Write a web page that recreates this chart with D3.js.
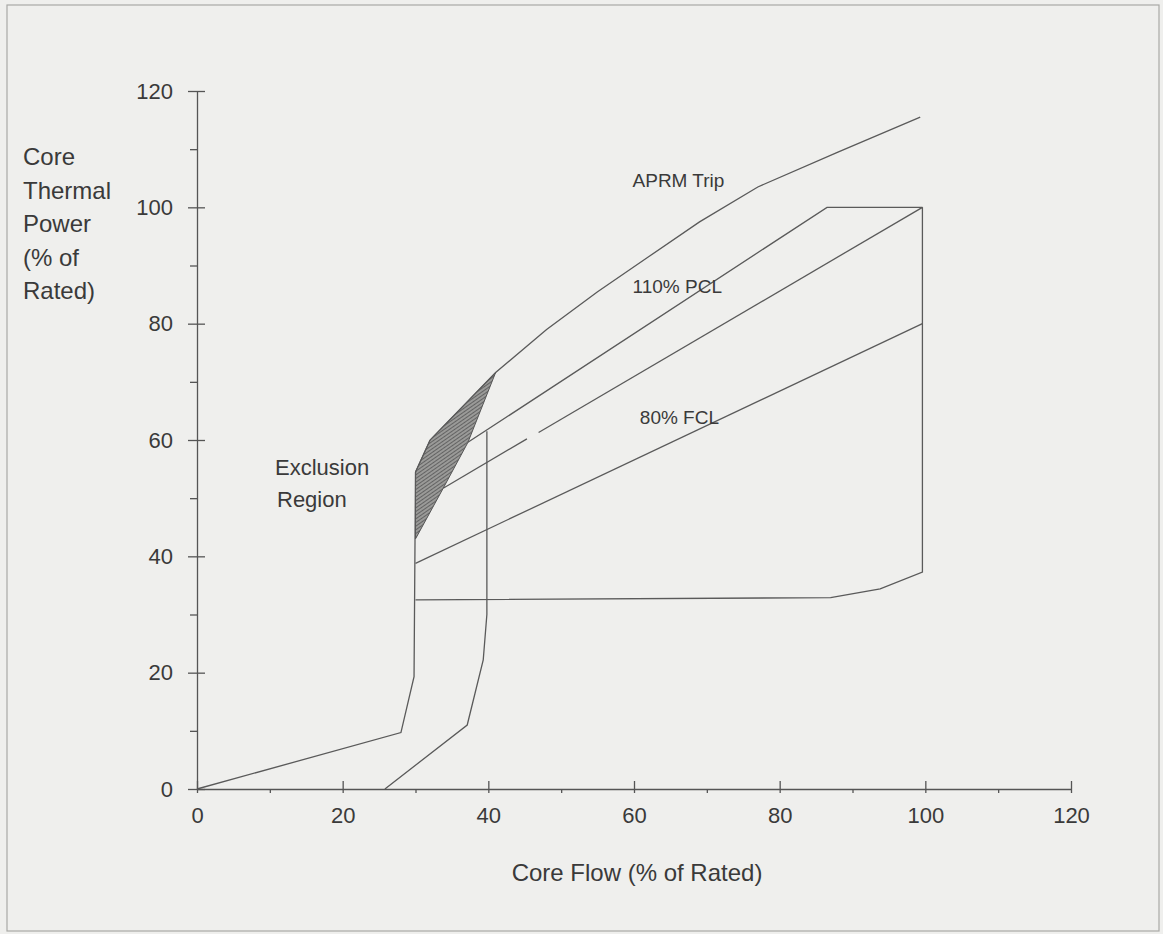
<!DOCTYPE html>
<html><head><meta charset="utf-8">
<script src="https://cdn.jsdelivr.net/npm/d3@7"></script>
<style>
html,body{margin:0;padding:0;background:#efefed;}
svg{display:block;}
text{font-family:"Liberation Sans",Arial,sans-serif;fill:#3a3a3a;}
</style></head>
<body>
<svg id="c" width="1163" height="934"></svg>
<script>
// ---- data ----
const xMajorTicks = [0, 20, 40, 60, 80, 100, 120];
const xMinorTicks = [10, 30, 50, 70, 90, 110];
const yMajorTicks = [0, 20, 40, 60, 80, 100, 120];
const yMinorTicks = [10, 30, 50, 70, 90, 110];

const aprmFlow  = [30, 32, 41, 48, 55, 62, 69, 77, 88, 99.3];
const aprmPower = [54.5, 60, 71.6, 79, 85.5, 91.5, 97.5, 103.5, 109.5, 115.5];

const pcl110Flow  = [37.2, 86.5, 99.6];
const pcl110Power = [59.6, 100, 100];

const midFlowA  = [33.8, 45.3];
const midPowerA = [51.7, 60.2];
const midFlowB  = [46.9, 99.6];
const midPowerB = [61.3, 100];

const fcl80Flow  = [30, 99.6];
const fcl80Power = [38.8, 80];

const leftFlow  = [0, 28, 29.8, 30];
const leftPower = [0, 9.7, 19.3, 54.5];

const rightFlow  = [25.8, 37.1, 39.3, 39.8, 39.8];
const rightPower = [0, 11, 22.2, 30, 61.5];

const bottomFlow  = [30, 87, 93.8, 99.6, 99.6];
const bottomPower = [32.5, 32.9, 34.4, 37.3, 100];

const exclFlow  = [30, 32, 41, 37.2, 33.8, 30];
const exclPower = [54.5, 60, 71.6, 59.6, 51.7, 43];

const lineLabels = [
  {text: "APRM Trip", flow: 59.8, power: 103.5},
  {text: "110% PCL", flow: 59.8, power: 85.2},
  {text: "80% FCL", flow: 60.8, power: 62.7}
];

// ---- drawing ----
const svg = d3.select("#c");
const x = d3.scaleLinear().domain([0, 120]).range([197, 1071]);
const y = d3.scaleLinear().domain([0, 120]).range([789, 91]);

svg.append("rect").attr("x", 7).attr("y", 5).attr("width", 1152).attr("height", 926)
  .attr("fill", "none").attr("stroke", "#a8a8a6").attr("stroke-width", 1.2);

const defs = svg.append("defs");
const pat = defs.append("pattern").attr("id", "hatch").attr("patternUnits", "userSpaceOnUse")
  .attr("width", 3).attr("height", 3).attr("patternTransform", "rotate(-35)");
pat.append("rect").attr("width", 3).attr("height", 3).attr("fill", "#9a9a98");
pat.append("line").attr("x1", 0).attr("y1", 0).attr("x2", 3).attr("y2", 0)
  .attr("stroke", "#555").attr("stroke-width", 1.6);

const zip = (fx, fy) => fx.map((v, i) => [v, fy[i]]);
const line = d3.line().x(d => x(d[0])).y(d => y(d[1]));

// exclusion region
svg.append("path").datum(zip(exclFlow, exclPower))
  .attr("d", d => line(d) + "Z").attr("fill", "url(#hatch)").attr("stroke", "#555").attr("stroke-width", 1);

const series = [
  zip(aprmFlow, aprmPower), zip(pcl110Flow, pcl110Power), zip(midFlowA, midPowerA),
  zip(midFlowB, midPowerB), zip(fcl80Flow, fcl80Power), zip(leftFlow, leftPower),
  zip(rightFlow, rightPower), zip(bottomFlow, bottomPower)
];
svg.append("g").selectAll("path").data(series).join("path")
  .attr("d", line).attr("fill", "none").attr("stroke", "#5a5a5a").attr("stroke-width", 1.3);

// axes
const axColor = "#555";
const gx = svg.append("g").attr("transform", `translate(0,${y(0)})`)
  .call(d3.axisBottom(x).tickValues(xMajorTicks).tickSizeInner(4).tickSizeOuter(0).tickPadding(14));
gx.selectAll(".tick line").attr("y1", -8);
const gxm = svg.append("g").attr("transform", `translate(0,${y(0)})`)
  .call(d3.axisBottom(x).tickValues(xMinorTicks).tickSize(4).tickFormat(""));
gxm.select(".domain").remove();

const gy = svg.append("g").attr("transform", `translate(${x(0)},0)`)
  .call(d3.axisLeft(y).tickValues(yMajorTicks).tickSizeInner(9).tickSizeOuter(0).tickPadding(15));
gy.selectAll(".tick line").attr("x1", 8);
const gym = svg.append("g").attr("transform", `translate(${x(0)},0)`)
  .call(d3.axisLeft(y).tickValues(yMinorTicks).tickSize(7).tickFormat(""));
gym.select(".domain").remove();

svg.selectAll(".domain, .tick line").attr("stroke", axColor).attr("stroke-width", 1.3);
svg.selectAll(".tick text").attr("font-size", 22).attr("fill", "#3a3a3a")
  .attr("font-family", "Liberation Sans, Arial, sans-serif");

// titles
const yTitle = ["Core", "Thermal", "Power", "(% of", "Rated)"];
svg.append("text").attr("x", 23).attr("y", 165).attr("font-size", 24)
  .selectAll("tspan").data(yTitle).join("tspan")
  .attr("x", 23).attr("dy", (d, i) => i === 0 ? 0 : 33.5).text(d => d);

svg.append("text").attr("x", x(60) + 3).attr("y", 881).attr("text-anchor", "middle")
  .attr("font-size", 24).text("Core Flow (% of Rated)");

const exclLabel = ["Exclusion", "Region"];
svg.append("text").attr("font-size", 22).attr("y", 475)
  .selectAll("tspan").data(exclLabel).join("tspan")
  .attr("x", (d, i) => i === 0 ? 275 : 277).attr("dy", (d, i) => i === 0 ? 0 : 32).text(d => d);

svg.append("g").selectAll("text").data(lineLabels).join("text")
  .attr("x", d => x(d.flow)).attr("y", d => y(d.power))
  .attr("font-size", 19).text(d => d.text);
</script>
</body></html>
